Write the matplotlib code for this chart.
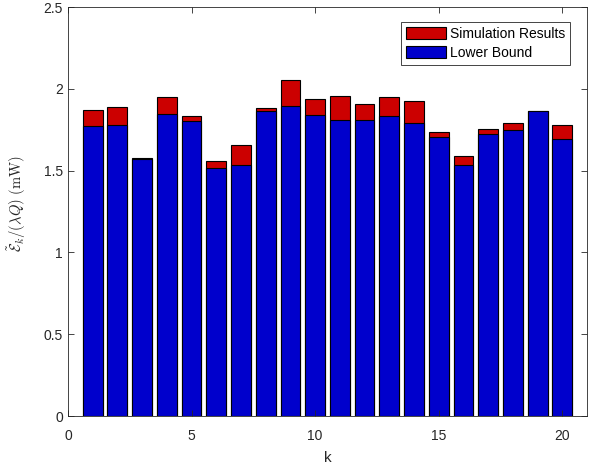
import numpy as np
import matplotlib.pyplot as plt

plt.rcParams['font.family'] = ['Liberation Sans', 'DejaVu Sans']
plt.rcParams['mathtext.fontset'] = 'cm'

k = np.arange(1, 21)
sim_results = [1.871, 1.888, 1.580, 1.947, 1.831, 1.561, 1.655, 1.880, 2.055, 1.937,
               1.957, 1.908, 1.947, 1.926, 1.739, 1.592, 1.755, 1.794, 1.862, 1.776]
lower_bound = [1.773, 1.779, 1.574, 1.845, 1.806, 1.516, 1.532, 1.863, 1.892, 1.837,
               1.812, 1.812, 1.831, 1.792, 1.704, 1.534, 1.724, 1.747, 1.865, 1.696]

axcol = '#262626'
fig = plt.figure(figsize=(5.96, 4.69), dpi=100)
ax = fig.add_axes([0.114, 0.113, 0.871, 0.872])

# simulated values behind, bound drawn on top
ax.bar(k, sim_results, width=0.8, color='#cc0000', edgecolor='black', linewidth=0.8,
       label='Simulation Results')
ax.bar(k, lower_bound, width=0.8, color='#0000cc', edgecolor='black', linewidth=0.8,
       label='Lower Bound')

ax.set_xlim(0, 21)
ax.set_ylim(0, 2.5)
ax.set_xticks([0, 5, 10, 15, 20])
ax.set_yticks([0, 0.5, 1, 1.5, 2, 2.5])
ax.set_yticklabels(['0', '0.5', '1', '1.5', '2', '2.5'])
ax.tick_params(direction='in', top=True, right=True, length=4, width=0.6,
               colors=axcol, labelsize=10, labelcolor=axcol)
ax.tick_params(axis='x', pad=9)
for s in ax.spines.values():
    s.set_color(axcol)
    s.set_linewidth(0.6)

ax.set_xlabel('k', fontsize=11, color=axcol, labelpad=6)
ax.set_ylabel(r'$\tilde{\mathcal{E}}_k/(\lambda Q)\ (\mathrm{mW})$', fontsize=10.5,
              color=axcol, labelpad=9)
ax.yaxis.set_label_coords(-0.076, 0.52)

leg = ax.legend(loc='upper right', bbox_to_anchor=(0.968, 0.963), fontsize=10,
                frameon=True, fancybox=False, edgecolor=axcol, framealpha=1,
                handlelength=2.9, handleheight=1.0, handletextpad=0.3,
                borderpad=0.35, labelspacing=0.35, borderaxespad=0)
leg.get_frame().set_linewidth(0.6)

fig.savefig('out.png', dpi=100, facecolor='white')
